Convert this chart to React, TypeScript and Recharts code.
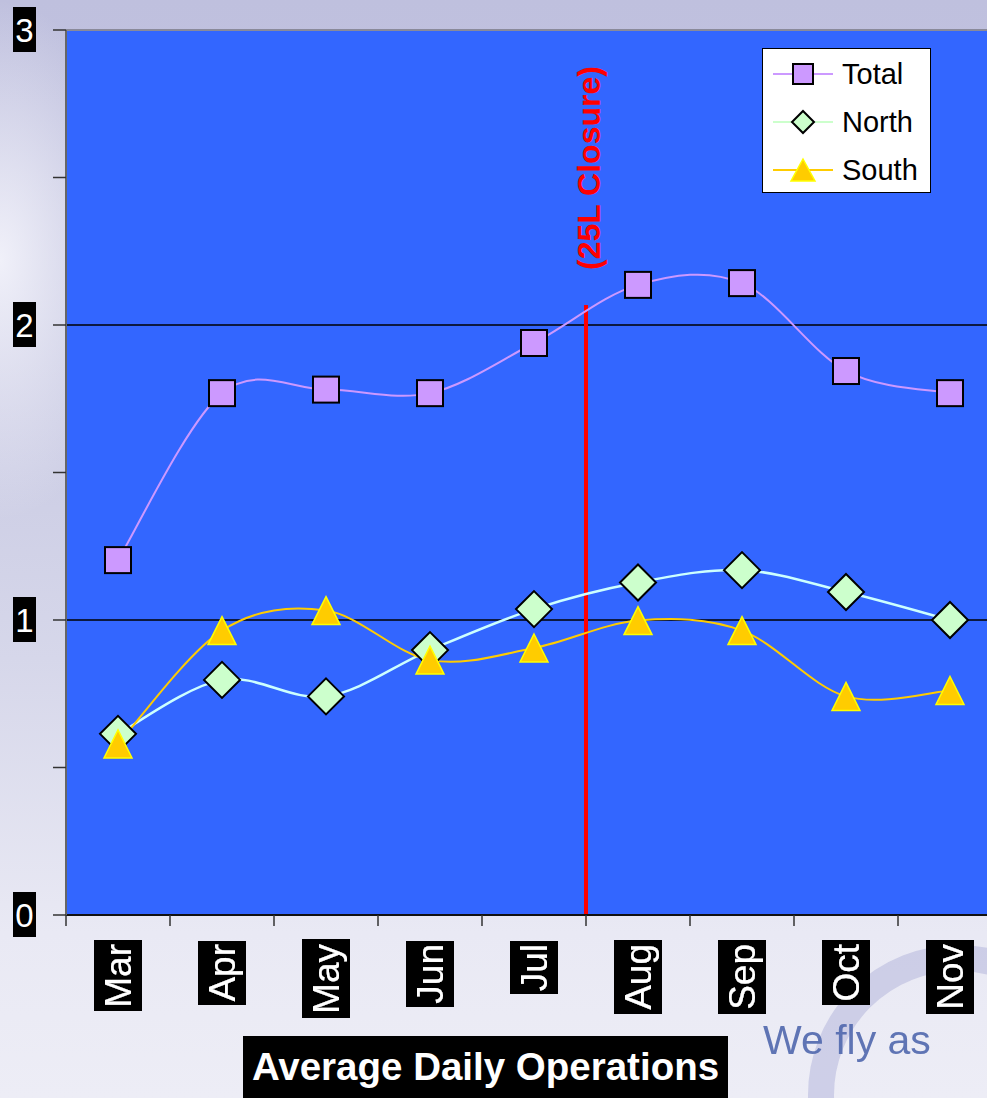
import React from "react";
import {
  LineChart,
  Line,
  XAxis,
  YAxis,
  ReferenceLine,
  ReferenceDot,
  ReferenceArea,
} from "recharts";

const months = ["Mar", "Apr", "May", "Jun", "Jul", "Aug", "Sep", "Oct", "Nov"];
const totalValues = [1.203, 1.769, 1.781, 1.769, 1.939, 2.136, 2.142, 1.844, 1.769];
const northValues = [0.614, 0.797, 0.741, 0.898, 1.037, 1.127, 1.169, 1.095, 1.0];
const southValues = [0.58, 0.964, 1.032, 0.864, 0.905, 0.998, 0.964, 0.741, 0.761];
const yTicks = [0, 0.5, 1, 1.5, 2, 2.5, 3];
const closureIndex = 5;
const closureTop = 2.068;
const closureLabel = "(25L Closure)";
const closureLabelY = 2.532;
const titleText = "Average Daily Operations";

// category slots: month i occupies [i, i+1] on the x scale, point at the centre
const data = months.map((m, i) => ({
  x: i + 0.5,
  month: m,
  Total: totalValues[i],
  North: northValues[i],
  South: southValues[i],
}));
const xTicks: number[] = [];
for (let i = 0; i <= months.length; i++) {
  xTicks.push(i);
  if (i < months.length) xTicks.push(i + 0.5);
}

const FONT = "'Liberation Sans', Arial, Helvetica, sans-serif";
const TOTAL_FILL = "#CC99FF";
const NORTH_FILL = "#CCFFCC";
const SOUTH_FILL = "#FFCC00";

// Excel-like smoothing (Catmull-Rom, 1/6 control points)
const excelCurve: any = (context: any) => {
  let pts: number[][] = [];
  return {
    areaStart() {},
    areaEnd() {},
    lineStart() {
      pts = [];
    },
    point(x: number, y: number) {
      pts.push([+x, +y]);
    },
    lineEnd() {
      const n = pts.length;
      if (!n) return;
      context.moveTo(pts[0][0], pts[0][1]);
      for (let i = 0; i < n - 1; i++) {
        const p0 = pts[Math.max(0, i - 1)];
        const p1 = pts[i];
        const p2 = pts[i + 1];
        const p3 = pts[Math.min(n - 1, i + 2)];
        context.bezierCurveTo(
          p1[0] + (p2[0] - p0[0]) / 6,
          p1[1] + (p2[1] - p0[1]) / 6,
          p2[0] - (p3[0] - p1[0]) / 6,
          p2[1] - (p3[1] - p1[1]) / 6,
          p2[0],
          p2[1]
        );
      }
    },
  };
};

const SquareDot = (props: any) => {
  const { cx, cy } = props;
  if (cx == null || cy == null) return null;
  const s = 26;
  return (
    <rect x={cx - s / 2} y={cy - s / 2} width={s} height={s} fill={TOTAL_FILL} stroke="#000" strokeWidth={2} />
  );
};

const DiamondDot = (props: any) => {
  const { cx, cy } = props;
  if (cx == null || cy == null) return null;
  const h = 18;
  return (
    <polygon
      points={`${cx},${cy - h} ${cx + h},${cy} ${cx},${cy + h} ${cx - h},${cy}`}
      fill={NORTH_FILL}
      stroke="#000"
      strokeWidth={2}
    />
  );
};

const TriangleDot = (props: any) => {
  const { cx, cy } = props;
  if (cx == null || cy == null) return null;
  const w = 28;
  const h = 28;
  return (
    <polygon
      points={`${cx},${cy - h / 2} ${cx + w / 2},${cy + h / 2} ${cx - w / 2},${cy + h / 2}`}
      fill={SOUTH_FILL}
      stroke="#FFFF00"
      strokeWidth={1.5}
    />
  );
};

const YTick = (props: any) => {
  const { x, y, payload } = props;
  const v = payload.value;
  if (Math.abs(v - Math.round(v)) > 1e-6) return null;
  return (
    <g>
      <rect x={x - 23} y={y - 23} width={23} height={45} fill="#000" />
      <text
        x={x - 11.5}
        y={y}
        textAnchor="middle"
        dominantBaseline="central"
        fill="#fff"
        fontSize={33}
        fontFamily={FONT}
      >
        {String(v)}
      </text>
    </g>
  );
};

const XTick = (props: any) => {
  const { x, y, payload } = props;
  const v = payload.value;
  if (Math.abs(v - Math.round(v)) < 1e-6) {
    return <line x1={x} x2={x} y1={y} y2={y + 11} stroke="#333" strokeWidth={1.5} />;
  }
  const label = months[Math.floor(v)];
  return (
    <g transform={`translate(${x},${y + 29}) rotate(-90)`}>
      <text
        x={0}
        y={0}
        textAnchor="end"
        dominantBaseline="central"
        fill="#fff"
        fontSize={37}
        fontFamily={FONT}
        filter="url(#blackbg)"
      >
        {label}
      </text>
    </g>
  );
};

const ClosureLabel = (props: any) => {
  const { cx, cy } = props;
  if (cx == null || cy == null) return null;
  return (
    <text
      transform={`translate(${cx + 3},${cy}) rotate(-90)`}
      textAnchor="middle"
      dominantBaseline="central"
      fill="#FF0000"
      fontSize={32}
      fontWeight="bold"
      fontFamily={FONT}
    >
      {closureLabel}
    </text>
  );
};

const legendItems = [
  { name: "Total", line: TOTAL_FILL, kind: "square" },
  { name: "North", line: "#CCFFCC", kind: "diamond" },
  { name: "South", line: SOUTH_FILL, kind: "triangle" },
];

const LegendBox = () => (
  <div
    style={{
      position: "absolute",
      left: 762,
      top: 48,
      width: 169,
      height: 145,
      background: "#fff",
      border: "1.5px solid #000",
      boxSizing: "border-box",
    }}
  >
    <svg width={167} height={143} style={{ position: "absolute", left: 0, top: 0 }}>
      {legendItems.map((it, i) => {
        const cy = 25 + i * 48;
        const cx = 40;
        return (
          <g key={it.name}>
            <line x1={10} x2={70} y1={cy} y2={cy} stroke={it.line} strokeWidth={2} />
            {it.kind === "square" && (
              <rect x={cx - 10} y={cy - 10} width={20} height={20} fill={TOTAL_FILL} stroke="#000" strokeWidth={2} />
            )}
            {it.kind === "diamond" && (
              <polygon
                points={`${cx},${cy - 11} ${cx + 11},${cy} ${cx},${cy + 11} ${cx - 11},${cy}`}
                fill={NORTH_FILL}
                stroke="#000"
                strokeWidth={2}
              />
            )}
            {it.kind === "triangle" && (
              <polygon
                points={`${cx},${cy - 11} ${cx + 12},${cy + 11} ${cx - 12},${cy + 11}`}
                fill={SOUTH_FILL}
                stroke="#FFFF00"
                strokeWidth={1.5}
              />
            )}
            <text x={79} y={cy} dominantBaseline="central" fontSize={29} fontFamily={FONT} fill="#000">
              {it.name}
            </text>
          </g>
        );
      })}
    </svg>
  </div>
);

export default function App() {
  return (
    <div
      style={{
        position: "absolute",
        left: 0,
        top: 0,
        width: 987,
        height: 1098,
        overflow: "hidden",
        fontFamily: FONT,
        background:
          "radial-gradient(ellipse 140px 260px at 0px 260px, rgba(245,245,252,0.9), rgba(245,245,252,0) 100%), linear-gradient(to bottom, #bfc0de 0%, #c4c5e0 25%, #d6d7ea 60%, #e9e9f4 85%, #ededf6 100%)",
      }}
    >
      <div
        style={{
          position: "absolute",
          left: 808,
          top: 945,
          width: 300,
          height: 300,
          borderRadius: "50%",
          border: "26px solid rgba(175,178,218,0.5)",
          boxSizing: "border-box",
        }}
      />
      <div
        style={{
          position: "absolute",
          left: 763,
          top: 1017,
          fontSize: 41,
          color: "#5068ae",
          fontFamily: FONT,
          whiteSpace: "nowrap",
          opacity: 0.9,
        }}
      >
        We fly as
      </div>
      <div style={{ position: "absolute", left: 0, top: 0 }}>
        <svg width={0} height={0} style={{ position: "absolute" }}>
          <defs>
            <filter id="blackbg" x="-0.05" y="-0.07" width="1.1" height="1.14">
              <feFlood floodColor="#000" result="bg" />
              <feMerge>
                <feMergeNode in="bg" />
                <feMergeNode in="SourceGraphic" />
              </feMerge>
            </filter>
          </defs>
        </svg>
        <LineChart
          width={1002}
          height={1098}
          data={data}
          margin={{ top: 30, right: 0, bottom: 0, left: 0 }}
        >
          <ReferenceArea
            x1={0}
            x2={months.length}
            y1={0}
            y2={3}
            fill="#3366FF"
            fillOpacity={1}
            stroke="none"
          />
          <XAxis
            dataKey="x"
            type="number"
            domain={[0, months.length]}
            ticks={xTicks}
            interval={0}
            height={183}
            tickSize={0}
            tickMargin={0}
            tickLine={false}
            axisLine={{ stroke: "#111", strokeWidth: 2 }}
            tick={<XTick />}
            allowDataOverflow
          />
          <YAxis
            domain={[0, 3]}
            ticks={yTicks}
            width={66}
            tickSize={13}
            tickMargin={17}
            interval={0}
            tickLine={{ stroke: "#333", strokeWidth: 1.5 }}
            axisLine={{ stroke: "#666", strokeWidth: 2 }}
            tick={<YTick />}
          />
          <ReferenceLine y={1} stroke="#000" strokeWidth={1.5} />
          <ReferenceLine y={2} stroke="#000" strokeWidth={1.5} />
          <ReferenceLine y={3} stroke="#8a8a9a" strokeWidth={2} />
          <ReferenceLine
            segment={[
              { x: closureIndex, y: 0 },
              { x: closureIndex, y: closureTop },
            ]}
            stroke="#FF0000"
            strokeWidth={4}
          />
          <ReferenceDot x={closureIndex} y={closureLabelY} r={0} shape={<ClosureLabel />} />
          <Line
            dataKey="Total"
            type={excelCurve}
            stroke={TOTAL_FILL}
            strokeWidth={2}
            dot={<SquareDot />}
            activeDot={false}
            isAnimationActive={false}
          />
          <Line
            dataKey="North"
            type={excelCurve}
            stroke="#CCFFFF"
            strokeWidth={2.5}
            dot={<DiamondDot />}
            activeDot={false}
            isAnimationActive={false}
          />
          <Line
            dataKey="South"
            type={excelCurve}
            stroke={SOUTH_FILL}
            strokeWidth={2}
            dot={<TriangleDot />}
            activeDot={false}
            isAnimationActive={false}
          />
        </LineChart>
      </div>
      <LegendBox />
      <div
        style={{
          position: "absolute",
          left: 243,
          top: 1036,
          width: 485,
          height: 62,
          background: "#000",
          color: "#fff",
          fontWeight: "bold",
          fontSize: 38.5,
          fontFamily: FONT,
          display: "flex",
          alignItems: "center",
          justifyContent: "center",
          whiteSpace: "nowrap",
        }}
      >
        {titleText}
      </div>
    </div>
  );
}
